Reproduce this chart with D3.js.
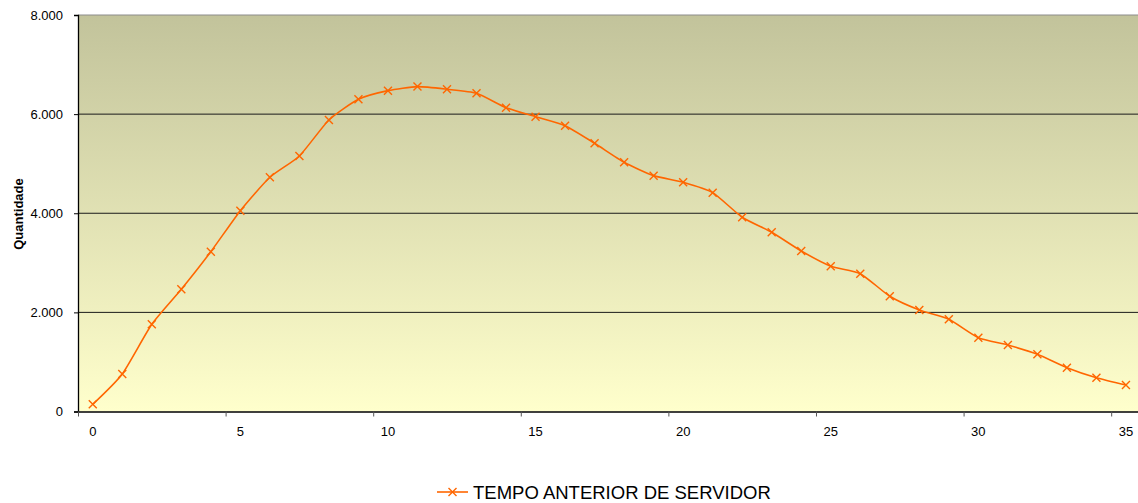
<!DOCTYPE html>
<html>
<head>
<meta charset="utf-8">
<script src="https://cdn.jsdelivr.net/npm/d3@7"></script>
<style>
  html, body { margin: 0; padding: 0; background: #ffffff; }
  svg { display: block; font-family: "Liberation Sans", Arial, sans-serif; }
</style>
</head>
<body>
<svg id="chart" width="1138" height="503"></svg>
<script>
// ---- data ----
const categories = d3.range(0, 36);
const seriesName = "TEMPO ANTERIOR DE SERVIDOR";
const values = [145, 757, 1759, 2466, 3225, 4052, 4726, 5156, 5882, 6300,
                6474, 6555, 6502, 6421, 6131, 5949, 5767, 5412, 5029, 4759,
                4625, 4416, 3919, 3616, 3239, 2932, 2781, 2325, 2048, 1861,
                1489, 1342, 1154, 884, 682, 535];
const yTicks = [0, 2000, 4000, 6000, 8000];
const xLabelTicks = [0, 5, 10, 15, 20, 25, 30, 35];
const yTitle = "Quantidade";

// ---- layout ----
const svg = d3.select("#chart");
const plotL = 78, plotR = 1140.7, plotT = 15, plotB = 411.5;

const x = d3.scaleBand().domain(categories).range([plotL, plotR]).padding(0);
const xEdge = d3.scaleLinear().domain([0, categories.length]).range([plotL, plotR]);
const y = d3.scaleLinear().domain([0, 8000]).range([plotB, plotT]);

const fmt = d3.formatLocale({decimal: ",", thousands: ".", grouping: [3], currency: ["", ""]}).format(",d");

// background gradient
const defs = svg.append("defs");
const grad = defs.append("linearGradient").attr("id", "bg").attr("x1", 0).attr("y1", 0).attr("x2", 0).attr("y2", 1);
grad.append("stop").attr("offset", "0%").attr("stop-color", "#c2c39b");
grad.append("stop").attr("offset", "100%").attr("stop-color", "#ffffcc");

svg.append("rect")
  .attr("x", plotL).attr("y", plotT)
  .attr("width", plotR - plotL).attr("height", plotB - plotT)
  .attr("fill", "url(#bg)");

// top border
svg.append("line")
  .attr("x1", plotL).attr("x2", plotR).attr("y1", plotT).attr("y2", plotT)
  .attr("stroke", "#8c8c8c").attr("stroke-width", 1);

// gridlines
svg.append("g").selectAll("line")
  .data(yTicks.filter(d => d > 0 && d < 8000))
  .join("line")
  .attr("x1", plotL).attr("x2", plotR)
  .attr("y1", d => y(d)).attr("y2", d => y(d))
  .attr("stroke", "#1a1a1a").attr("stroke-width", 1);

// y axis
const yAxis = svg.append("g")
  .attr("transform", `translate(${plotL},0)`)
  .call(d3.axisLeft(y).tickValues(yTicks).tickFormat(fmt).tickSize(4).tickPadding(11));
yAxis.select(".domain").attr("stroke", "#000").attr("stroke-width", 1.3);
yAxis.selectAll(".tick line").attr("stroke", "#000");
yAxis.selectAll("text").attr("font-size", 13).attr("fill", "#000")
  .attr("font-family", "'Liberation Sans', Arial, sans-serif");

// x axis: boundary ticks
const xTickAxis = svg.append("g")
  .attr("transform", `translate(0,${plotB})`)
  .call(d3.axisBottom(xEdge).tickValues(xLabelTicks).tickFormat("").tickSize(5).tickSizeOuter(0));
xTickAxis.select(".domain").attr("stroke", "#000").attr("stroke-width", 1.3);
xTickAxis.selectAll(".tick line").attr("stroke", "#555");

// x axis labels at category centers
const xLabAxis = svg.append("g")
  .attr("transform", `translate(0,${plotB})`)
  .call(d3.axisBottom(x).tickValues(xLabelTicks).tickSize(0).tickPadding(15));
xLabAxis.select(".domain").remove();
xLabAxis.selectAll("text").attr("font-size", 13).attr("fill", "#000")
  .attr("font-family", "'Liberation Sans', Arial, sans-serif");

// y axis title
svg.append("text")
  .attr("transform", `translate(23,214) rotate(-90)`)
  .attr("text-anchor", "middle")
  .attr("font-size", 13).attr("font-weight", "bold").attr("fill", "#000")
  .text(yTitle);

// line
const cx = d => x(d) + x.bandwidth() / 2;
const line = d3.line()
  .x((d, i) => cx(categories[i]))
  .y(d => y(d))
  .curve(d3.curveCardinal.tension(0.4));

svg.append("path")
  .datum(values)
  .attr("fill", "none")
  .attr("stroke", "#ff6600")
  .attr("stroke-width", 1.6)
  .attr("d", line);

// markers (x shape)
const m = 4;
svg.append("g").selectAll("path")
  .data(values)
  .join("path")
  .attr("transform", (d, i) => `translate(${cx(categories[i])},${y(d)})`)
  .attr("d", `M${-m},${-m}L${m},${m}M${-m},${m}L${m},${-m}`)
  .attr("stroke", "#ff6600")
  .attr("stroke-width", 1.4)
  .attr("fill", "none");

// legend
const legend = svg.append("g");
const legY = 492;
legend.append("line")
  .attr("x1", 437).attr("x2", 468).attr("y1", legY).attr("y2", legY)
  .attr("stroke", "#ff6600").attr("stroke-width", 1.6);
legend.append("path")
  .attr("transform", `translate(452.5,${legY})`)
  .attr("d", `M${-m},${-m}L${m},${m}M${-m},${m}L${m},${-m}`)
  .attr("stroke", "#ff6600").attr("stroke-width", 1.4);
legend.append("text")
  .attr("x", 473).attr("y", 498.5)
  .attr("font-size", 18.5).attr("fill", "#000")
  .text(seriesName);
</script>
</body>
</html>
